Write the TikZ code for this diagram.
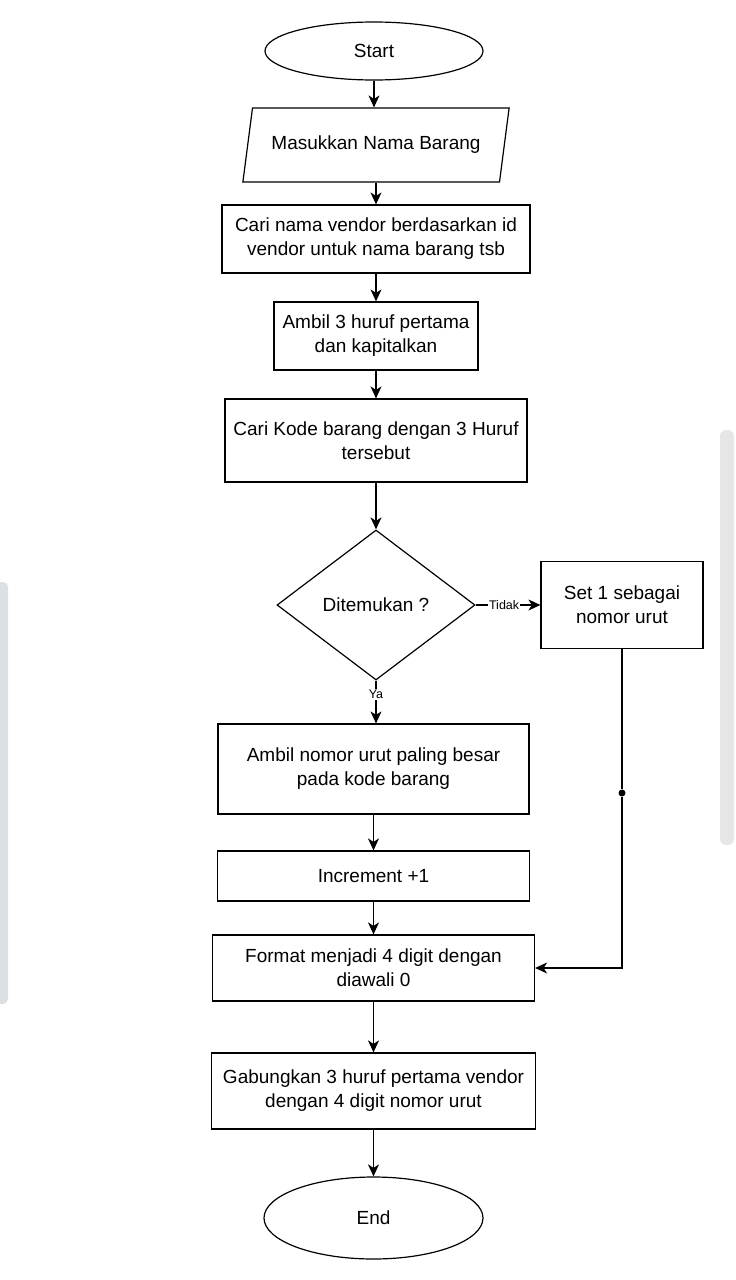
\documentclass[tikz,border=0pt]{standalone}
\usepackage{fontspec}
\setmainfont{Liberation Sans}
\usetikzlibrary{shapes.geometric, arrows.meta, positioning}
\definecolor{scrollgray}{HTML}{E6E6E6}
\definecolor{sidegray}{HTML}{DCDFE4}
\tikzstyle{startstop} = [ellipse, minimum width=218pt, minimum height=58pt, text centered, draw=black]
\tikzstyle{io} = [trapezium, trapezium left angle=71, trapezium right angle=109, trapezium stretches=true, minimum width=267pt, minimum height=74pt, text centered, draw=black]
\tikzstyle{process} = [rectangle, minimum width=308pt, minimum height=68pt, align=center, draw=black]
\tikzstyle{decision} = [diamond, minimum width=198pt, minimum height=150pt, inner sep=0pt, text centered, draw=black]
\tikzstyle{dot} = [circle, fill=black, inner sep=0pt, minimum size=7pt]
\tikzstyle{edgetext} = [fill=white, inner sep=1pt, font=\fontsize{12.5}{14}\selectfont]
\tikzstyle{arrow} = [->,>={Stealth[length=12pt,width=11pt,inset=3.5pt]}]

\begin{document}
\begin{tikzpicture}[x=1pt,y=-1pt,node distance=94pt,line width=1.2pt,font=\fontsize{19}{24}\selectfont]
    \useasboundingbox (0,0) rectangle (736,1280);
    % scrollbars of the screenshot
    \fill [scrollgray, rounded corners=6pt] (720,430) rectangle (734,845);
    \fill [sidegray, rounded corners=5pt] (-6,582) rectangle (8,1004);

    \node (start) [startstop] at (374,51) {Start};
    \node (masukkan) [io, below of=start, xshift=2pt] {Masukkan Nama Barang};
    \node (carivendor) [process, below of=masukkan] {Cari nama vendor berdasarkan id \\ vendor untuk nama barang tsb};
    \node (kapital) [process, below of=carivendor, yshift=-3pt, minimum width=204pt] {Ambil 3 huruf pertama \\ dan kapitalkan};
    \node (carikode) [process, below of=kapital, yshift=-10.5pt, minimum width=302pt, minimum height=83pt] {Cari Kode barang dengan 3 Huruf \\ tersebut};
    \node (ditemukan) [decision, below of=carikode, yshift=-70.5pt] {Ditemukan ?};
    \node (setnomor) [process, right of=ditemukan, xshift=152pt, minimum width=162pt, minimum height=87pt] {Set 1 sebagai \\ nomor urut};
    \node (ambilnomor) [process, below of=ditemukan, yshift=-70pt, xshift=-2.5pt, minimum width=311pt, minimum height=90pt] {Ambil nomor urut paling besar \\ pada kode barang};
    \node (increment) [process, below of=ambilnomor, yshift=-13pt, minimum width=312pt, minimum height=50pt] {Increment +1};
    \node (format) [process, below of=increment, yshift=2pt, minimum width=322pt, minimum height=66pt] {Format menjadi 4 digit dengan \\ diawali 0};
    \node (gabung) [process, below of=format, yshift=-29pt, minimum width=324pt, minimum height=76pt] {Gabungkan 3 huruf pertama vendor \\ dengan 4 digit nomor urut};
    \node (end) [startstop, below of=gabung, yshift=-33pt, minimum width=219pt, minimum height=82pt] {End};
    \node (titik) [dot] at (setnomor.south |- 0,793) {};

    \draw [arrow] (start) -- (start |- masukkan.north);
    \draw [arrow] (carivendor.north |- masukkan.south) -- (carivendor);
    \draw [arrow] (carivendor) -- (kapital);
    \draw [arrow] (kapital) -- (carikode);
    \draw [arrow] (carikode) -- (ditemukan);
    \draw [arrow] (ditemukan) -- node[edgetext, pos=0.44] {Tidak} (setnomor);
    \draw [arrow] (ditemukan) -- node[edgetext, pos=0.32] {Ya} (ditemukan |- ambilnomor.north);
    \draw [arrow] (ambilnomor) -- (increment);
    \draw [arrow] (increment) -- (format);
    \draw [arrow] (format) -- (gabung);
    \draw [arrow] (gabung) -- (end);
    \draw (setnomor) -- (titik);
    \draw [arrow] (titik) |- (format);
  \end{tikzpicture}
\end{document}
